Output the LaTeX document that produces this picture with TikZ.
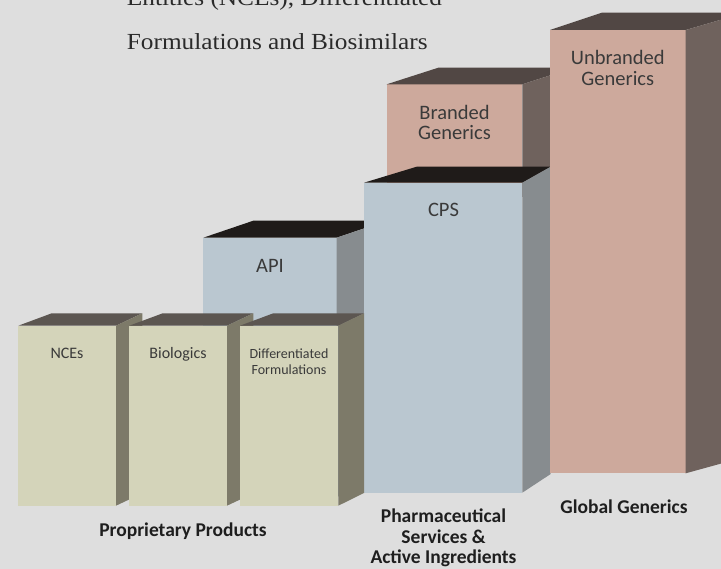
\documentclass[tikz,border=0pt]{standalone}
\usepackage{fontspec}
\setmainfont{Liberation Serif}
\newfontfamily\labfont{Carlito}
\definecolor{bg}{HTML}{DEDEDE}
\definecolor{khfront}{HTML}{D4D4BA}
\definecolor{khside}{HTML}{7D7A69}
\definecolor{khtop}{HTML}{5C5651}
\definecolor{blfront}{HTML}{BAC7D0}
\definecolor{blside}{HTML}{878C8F}
\definecolor{bltop}{HTML}{1F1B19}
\definecolor{pkfront}{HTML}{CDA99C}
\definecolor{pkside}{HTML}{6F625D}
\definecolor{pktop}{HTML}{514744}
\definecolor{labtxt}{HTML}{3A3A3A}
\definecolor{captxt}{HTML}{1E1E1E}
\definecolor{titletxt}{HTML}{2A2A2A}
\begin{document}
\begin{tikzpicture}[x=1pt,y=-1pt,
  lbl/.style={inner sep=0pt, anchor=base, text=labtxt},
  biglbl/.style={lbl, font=\labfont\fontsize{20.5pt}{24pt}\selectfont},
  midlbl/.style={lbl, font=\labfont\fontsize{16pt}{19pt}\selectfont},
  smalllbl/.style={lbl, font=\labfont\fontsize{14pt}{16pt}\selectfont},
  caplbl/.style={inner sep=0pt, anchor=base, text=captxt, font=\labfont\bfseries\fontsize{19.5pt}{22pt}\selectfont},
  titlelbl/.style={inner sep=0pt, anchor=base west, text=titletxt, font=\fontsize{23pt}{28pt}\selectfont}]
\useasboundingbox (0,0) rectangle (721,569);
\clip (0,0) rectangle (721,569);
\fill[bg] (0,0) rectangle (721,569);

% title text (cropped at top)
\node[titlelbl] (t1) at (126.7,6) {\scalebox{1.1}[1]{Entities (NCEs), Differentiated}};
\node[titlelbl] (t2) at (126.7,50) {\scalebox{1.1}[1]{Formulations and Biosimilars}};

% API box
\fill[blfront] (203.3,237.7) rectangle (336.7,500);
\fill[bltop] (203.3,237.7) -- (253.3,220.7) -- (386.7,220.7) -- (336.7,237.7) -- cycle;
\fill[blside] (336.7,237.7) -- (386.7,220.7) -- (386.7,480) -- (336.7,497) -- cycle;

% Branded Generics box
\fill[pkfront] (386.7,84.3) rectangle (522.3,200);
\fill[pktop] (386.7,84.3) -- (438.3,67.7) -- (574,67.7) -- (522.3,84.3) -- cycle;
\fill[pkside] (522.3,84.3) -- (574,67.7) -- (574,180) -- (522.3,197) -- cycle;

% CPS box
\fill[blfront] (364,182.7) rectangle (522.3,492.7);
\fill[bltop] (364,182.7) -- (416.7,166.7) -- (550.7,166.7) -- (522.3,182.7) -- cycle;
\fill[blside] (522.3,182.7) -- (550.7,166.7) -- (550.7,474) -- (522.3,492.7) -- cycle;

% Unbranded Generics box
\fill[pkfront] (550,30) rectangle (685.7,473.3);
\fill[pktop] (550,30) -- (601.7,12.7) -- (745,12.7) -- (685.7,30) -- cycle;
\fill[pkside] (685.7,30) -- (745,12.7) -- (745,457) -- (685.7,473.3) -- cycle;

% NCEs box
\fill[khfront] (18.3,325.7) rectangle (116,505.7);
\fill[khtop] (18.3,325.7) -- (51.7,313.3) -- (142.3,313.3) -- (116,325.7) -- cycle;
\fill[khside] (116,325.7) -- (142.3,313.3) -- (142.3,493.3) -- (116,505.7) -- cycle;

% Biologics box
\fill[khfront] (129.3,325.7) rectangle (227,505.7);
\fill[khtop] (129.3,325.7) -- (162.7,313.3) -- (253.3,313.3) -- (227,325.7) -- cycle;
\fill[khside] (227,325.7) -- (253.3,313.3) -- (253.3,493.3) -- (227,505.7) -- cycle;

% Differentiated Formulations box
\fill[khfront] (240,325.7) rectangle (338.3,505.7);
\fill[khtop] (240,325.7) -- (273.3,313.3) -- (364,313.3) -- (338.3,325.7) -- cycle;
\fill[khside] (338.3,325.7) -- (364,313.3) -- (364,493) -- (338.3,505.7) -- cycle;

% labels on boxes
\node[biglbl] (ub1) at (617.8,64.3) {Unbranded};
\node[biglbl] (ub2) at (617.8,85.7) {Generics};
\node[biglbl] (bg1) at (454.5,119.3) {Branded};
\node[biglbl] (bg2) at (454.5,140) {Generics};
\node[biglbl] (cps) at (443.5,216.7) {CPS};
\node[biglbl] (api) at (270,272.3) {API};
\node[midlbl] (nce) at (67,358.3) {NCEs};
\node[midlbl] (bio) at (178,359) {Biologics};
\node[smalllbl] (df1) at (289,358.5) {Differentiated};
\node[smalllbl] (df2) at (289,374.5) {Formulations};

% captions
\node[caplbl] (pp) at (183,536.7) {Proprietary Products};
\node[caplbl] (ps1) at (443.5,522.7) {Pharmaceutical};
\node[caplbl] (ps2) at (443.5,543.3) {Services \&};
\node[caplbl] (ps3) at (443.5,563) {Active Ingredients};
\node[caplbl] (gg) at (624,513.3) {Global Generics};
\end{tikzpicture}
\end{document}
